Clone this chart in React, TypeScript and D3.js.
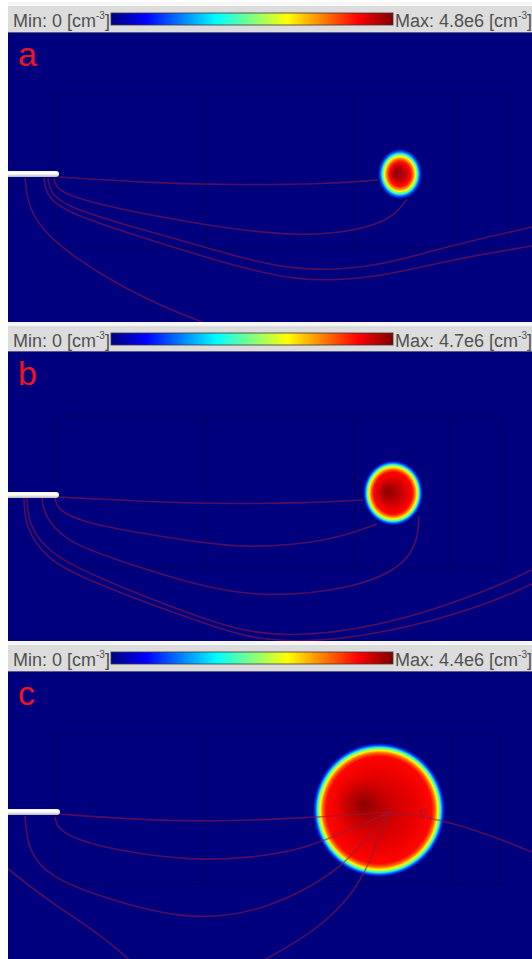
import * as d3 from "d3"

// Page / layout
const W = 532
const H = 959
const PLOT_LEFT = 8
const PLOT_W = 524
const PLOT_H = 289

// Panels
const panelLabels = ["a", "b", "c"]
const minLabels = ["0", "0", "0"]
const maxLabels = ["4.8e6", "4.7e6", "4.4e6"]
const headerTops = [6, 326, 645]
const plotTops = [33, 352, 672]

// Jet colormap (normalized density -> colour)
const jetOffsets = [0, 0.125, 0.375, 0.625, 0.875, 1]
const jetColors = ["#00007f", "#0000ff", "#00ffff", "#ffff00", "#ff0000", "#7f0000"]

// Needle tip (x, y) in plot units
const needleTips: [number, number][] = [[51, 141], [51, 143], [52, 140]]

// Faint geometry grid: [x0, x1, y0, y1] and inner verticals
const gridBoxes: [number, number, number, number][] = [
  [48, 500, 62, 215],
  [48, 494, 64, 216],
  [47, 492, 63, 212],
]
const gridVerticals: number[][] = [
  [199, 347, 447],
  [199, 347, 443],
  [199, 345, 444],
]

// Plasma blob: cx, cy, rx, ry and its darker core
const blobs: [number, number, number, number][] = [
  [392, 141, 22, 25],
  [385, 141, 30, 32.5],
  [371, 138, 66, 67],
]
const blobCores: [number, number, number, number][] = [
  [389, 140, 9, 10],
  [379, 140, 13, 14],
  [355, 133, 30, 30],
]

// Radial density profiles: [radius fraction, normalized density]
const profileA: [number, number][] = [[0, 0.97], [0.3, 0.92], [0.5, 0.86], [0.6, 0.76], [0.7, 0.62], [0.8, 0.42], [0.9, 0.2], [1, 0]]
const profileB: [number, number][] = [[0, 0.97], [0.35, 0.92], [0.65, 0.87], [0.73, 0.76], [0.8, 0.63], [0.87, 0.42], [0.94, 0.18], [1, 0]]
const profileC: [number, number][] = [[0, 0.94], [0.5, 0.9], [0.8, 0.87], [0.85, 0.78], [0.89, 0.63], [0.93, 0.42], [0.97, 0.17], [1, 0]]
const profiles = [profileA, profileB, profileC]

// Streamlines (plot units: x from plot left, y from plot top)
const streamA: [number, number][][] = [
  [[51, 144], [145, 150], [226, 152], [320, 151], [370, 147]],
  [[46, 145], [48, 156], [70, 166], [120, 178], [196, 192], [287, 204], [350, 198], [385, 185], [399, 166]],
  [[40, 145], [42, 160], [60, 174], [110, 190], [196, 214], [287, 240], [370, 234], [440, 213], [524, 194]],
  [[36, 145], [38, 162], [56, 178], [110, 197], [196, 224], [287, 250], [370, 245], [440, 227], [524, 213]],
  [[17, 145], [20, 175], [40, 205], [94, 243], [150, 272], [212, 296]],
]
const streamB: [number, number][][] = [
  [[51, 145], [145, 150], [226, 152], [300, 151], [355, 148]],
  [[47, 145], [49, 158], [75, 170], [125, 180], [196, 191], [240, 196], [320, 190], [369, 172]],
  [[34, 145], [36, 165], [60, 190], [100, 205], [196, 236], [257, 245], [340, 238], [395, 216], [410, 188], [411, 164]],
  [[19, 145], [20, 172], [40, 200], [80, 222], [196, 268], [267, 288], [380, 274], [481, 238], [524, 218]],
  [[16, 145], [17, 175], [38, 207], [80, 229], [196, 272], [267, 294], [380, 282], [481, 252], [524, 232]],
]
const streamC: [number, number][][] = [
  [[52, 142], [120, 147], [192, 150], [302, 146], [382, 140]],
  [[47, 145], [50, 160], [92, 176], [182, 189], [242, 186], [292, 178], [330, 163], [360, 150], [382, 140]],
  [[17, 144], [20, 180], [42, 205], [92, 225], [182, 250], [260, 238], [330, 200], [360, 165], [382, 140]],
  [[0, 197], [42, 230], [92, 262], [126, 292]],
  [[249, 292], [292, 268], [322, 246], [347, 218], [362, 190], [382, 140]],
  [[382, 140], [432, 147], [482, 163], [524, 180]],
]
const streams = [streamA, streamB, streamC]
const markerC: [number, number] = [415, 140]

export default function App() {
  const x = d3.scaleLinear().domain([0, PLOT_W]).range([PLOT_LEFT, PLOT_LEFT + PLOT_W])
  const y = d3.scaleLinear().domain([0, PLOT_H]).range([0, PLOT_H])
  const jet = d3.scaleLinear<string>().domain(jetOffsets).range(jetColors).interpolate(d3.interpolateRgb)
  const line = d3
    .line<[number, number]>()
    .x((d) => x(d[0]))
    .y((d) => y(d[1]))
    .curve(d3.curveBasis)

  const barX0 = 111
  const barX1 = 393
  const barStops = d3.range(0, 1.0001, 0.0625)
  const font = "'Liberation Sans', Arial, Helvetica, sans-serif"

  return (
    <svg width={W} height={H} style={{ position: "absolute", left: 0, top: 0, background: "#fff" }}>
      <defs>
        <linearGradient id="jetbar" x1="0" x2="1" y1="0" y2="0">
          {barStops.map((t) => (
            <stop key={t} offset={t} stopColor={jet(t)} />
          ))}
        </linearGradient>
        <linearGradient id="needle" x1="0" x2="0" y1="0" y2="1">
          <stop offset="0" stopColor="#f4f4f4" />
          <stop offset="0.45" stopColor="#ffffff" />
          <stop offset="1" stopColor="#b8b8b8" />
        </linearGradient>
        {profiles.map((p, i) => (
          <radialGradient key={i} id={`blob${i}`} cx="0.5" cy="0.5" r="0.5">
            {p.map(([o, v]) => (
              <stop key={o} offset={o} stopColor={jet(v)} />
            ))}
          </radialGradient>
        ))}
        <radialGradient id="core" cx="0.5" cy="0.5" r="0.5">
          <stop offset="0" stopColor="#7f0000" stopOpacity={0.85} />
          <stop offset="0.5" stopColor="#9a0000" stopOpacity={0.45} />
          <stop offset="1" stopColor="#c00000" stopOpacity={0} />
        </radialGradient>
        {plotTops.map((t, i) => (
          <clipPath key={i} id={`clip${i}`}>
            <rect x={PLOT_LEFT} y={0} width={PLOT_W} height={Math.min(PLOT_H, H - t)} />
          </clipPath>
        ))}
      </defs>

      {panelLabels.map((lab, i) => {
        const ht = headerTops[i]
        const pt = plotTops[i]
        const [gx0, gx1, gy0, gy1] = gridBoxes[i]
        const [bx, by, brx, bry] = blobs[i]
        const [kx, ky, krx, kry] = blobCores[i]
        const [nx, ny] = needleTips[i]
        return (
          <g key={lab}>
            {/* header with colour bar */}
            <rect x={PLOT_LEFT} y={ht - 4} width={PLOT_W} height={4} fill="#f6f6f6" />
            <rect x={PLOT_LEFT} y={ht} width={PLOT_W} height={pt - ht} fill="#dcdcdc" />
            <rect x={PLOT_LEFT} y={pt - 1} width={PLOT_W} height={1} fill="#5a5a8a" />
            <text x={13} y={ht + 21} fontSize={18} fill="#505050" fontFamily={font}>
              {`Min: ${minLabels[i]} [cm`}
              <tspan fontSize={10} dy={-8}>-3</tspan>
              <tspan dy={8}>]</tspan>
            </text>
            <rect x={barX0} y={ht + 7} width={barX1 - barX0} height={12} fill="url(#jetbar)" stroke="#3a3a3a" strokeWidth={0.8} />
            <text x={395} y={ht + 21} fontSize={18} fill="#505050" fontFamily={font}>
              {`Max: ${maxLabels[i]} [cm`}
              <tspan fontSize={10} dy={-8}>-3</tspan>
              <tspan dy={8}>]</tspan>
            </text>

            {/* plot */}
            <g transform={`translate(0,${pt})`} clipPath={`url(#clip${i})`}>
              <rect x={PLOT_LEFT} y={0} width={PLOT_W} height={PLOT_H} fill={jet(0)} />
              <g stroke="#000040" strokeOpacity={0.55} strokeWidth={1} fill="none">
                <rect x={x(gx0)} y={y(gy0)} width={x(gx1) - x(gx0)} height={y(gy1) - y(gy0)} />
                {gridVerticals[i].map((v) => (
                  <line key={v} x1={x(v)} x2={x(v)} y1={y(gy0)} y2={y(gy1)} />
                ))}
              </g>
              <ellipse cx={x(bx)} cy={y(by)} rx={brx} ry={bry} fill={`url(#blob${i})`} />
              <ellipse cx={x(kx)} cy={y(ky)} rx={krx} ry={kry} fill="url(#core)" />
              <g fill="none" stroke="#961a44" strokeOpacity={0.55} strokeWidth={1.6}>
                {streams[i].map((s, j) => (
                  <path key={j} d={line(s) ?? ""} />
                ))}
                {i === 2 && <circle cx={x(markerC[0])} cy={y(markerC[1])} r={3} />}
              </g>
              <rect x={PLOT_LEFT - 3} y={y(ny) - 3} width={x(nx) - PLOT_LEFT + 3} height={6} rx={3} fill="url(#needle)" />
              <text x={x(10)} y={y(33)} fontSize={34} fill="#f0141e" fontFamily={font}>
                {lab}
              </text>
            </g>
          </g>
        )
      })}
    </svg>
  )
}
